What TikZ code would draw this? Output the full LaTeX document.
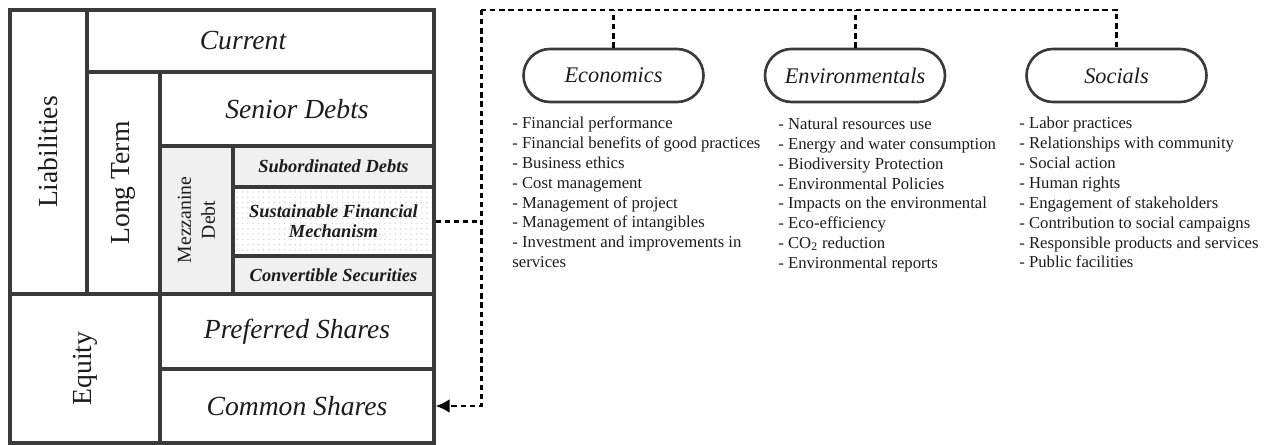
\documentclass[tikz,border=0pt]{standalone}
\usepackage{fontspec}
\setmainfont{Liberation Serif}
\usetikzlibrary{arrows.meta,positioning,patterns}
\definecolor{cellLine}{RGB}{58,58,58}
\definecolor{cellShade}{RGB}{240,240,240}
\definecolor{inkDark}{RGB}{28,28,28}
\tikzset{
  cell/.style={draw=cellLine,line width=1.8pt,inner sep=1pt,align=center,text=inkDark},
  bigcell/.style={cell,font=\fontsize{15.7}{18}\selectfont\itshape},
  sidecell/.style={cell,rotate=90,font=\fontsize{15.7}{18}\selectfont},
  mezzcell/.style={cell,fill=cellShade,font=\fontsize{10.5}{11.3}\selectfont\bfseries\itshape},
  pill/.style={draw=cellLine,line width=1.5pt,rounded corners=0.53cm,minimum width=3.6cm,
    minimum height=1.06cm,text=inkDark,font=\fontsize{12.7}{14}\selectfont\itshape},
  itemlist/.style={anchor=north west,inner sep=0pt,align=left,text=inkDark,
    font=\fontsize{9.5}{11.3}\selectfont},
  link/.style={draw=black,line width=1.7pt,dash pattern=on 3pt off 2.2pt}
}

\begin{document}
\begin{tikzpicture}
  \useasboundingbox (0,0) rectangle (25.44,-8.9);

  % balance sheet columns and rows
  \node[sidecell,minimum width=5.68cm,minimum height=1.54cm] (liab) at (0.97,-3.04) {Liabilities};
  \node[sidecell,minimum width=4.44cm,minimum height=1.46cm] (lt) at (2.47,-3.66) {Long Term};
  \node[sidecell,minimum width=2.98cm,minimum height=3.00cm] (eq) at (1.70,-7.37) {Equity};
  \node[bigcell,minimum width=6.94cm,minimum height=1.24cm] (cur) at (5.21,-0.82) {\hspace*{-0.7cm}Current};
  \node[bigcell,minimum width=5.48cm,minimum height=1.48cm] (sd) at (5.94,-2.18) {Senior Debts};
  \node[bigcell,minimum width=5.48cm,minimum height=1.50cm] (ps) at (5.94,-6.63) {Preferred Shares};
  \node[bigcell,minimum width=5.48cm,minimum height=1.48cm] (cs) at (5.94,-8.12) {Common Shares};
  \node[cell,rotate=90,fill=cellShade,minimum width=2.96cm,minimum height=1.46cm,
    font=\fontsize{11.2}{13.6}\selectfont] (mezz) at (3.93,-4.40) {Mezzanine\\Debt};
  \node[mezzcell,minimum width=4.02cm,minimum height=0.82cm] (sub) at (6.67,-3.33) {Subordinated Debts};
  \node[mezzcell,fill=none,pattern=dots,pattern color=gray!30,minimum width=4.02cm,
    minimum height=1.38cm] (sfm) at (6.67,-4.43) {Sustainable Financial\\Mechanism};
  \node[mezzcell,minimum width=4.02cm,minimum height=0.76cm] (conv) at (6.67,-5.50) {Convertible Securities};

  % sustainability dimensions
  \node[pill] (econ) at (12.27,-1.51) {Economics};
  \node[pill] (env) at (17.10,-1.51) {Environmentals};
  \node[pill] (soc) at (22.33,-1.51) {Socials};

  \node[itemlist] (econList) at (10.24,-2.33) {%
    - Financial performance\\
    - Financial benefits of good practices\\
    - Business ethics\\
    - Cost management\\
    - Management of project\\
    - Management of intangibles\\
    - Investment and improvements in\\
    services};
  \node[itemlist] (envList) at (15.56,-2.35) {%
    - Natural resources use\\
    - Energy and water consumption\\
    - Biodiversity Protection\\
    - Environmental Policies\\
    - Impacts on the environmental\\
    - Eco-efficiency\\
    - CO\textsubscript{2} reduction\\
    - Environmental reports};
  \node[itemlist] (socList) at (20.38,-2.34) {%
    - Labor practices\\
    - Relationships with community\\
    - Social action\\
    - Human rights\\
    - Engagement of stakeholders\\
    - Contribution to social campaigns\\
    - Responsible products and services\\
    - Public facilities};

  % dashed feedback loop
  \coordinate (busL) at (9.62,-0.2);
  \draw[link] (sfm.east) -- (sfm.east -| busL);
  \draw[link] (busL) -| (soc.north);
  \draw[link] (econ.north) -- (econ.north |- busL);
  \draw[link] (env.north) -- (env.north |- busL);
  \draw[link,-{Latex[length=8pt,width=8pt]}] (busL) |- (cs.east);
\end{tikzpicture}
\end{document}
